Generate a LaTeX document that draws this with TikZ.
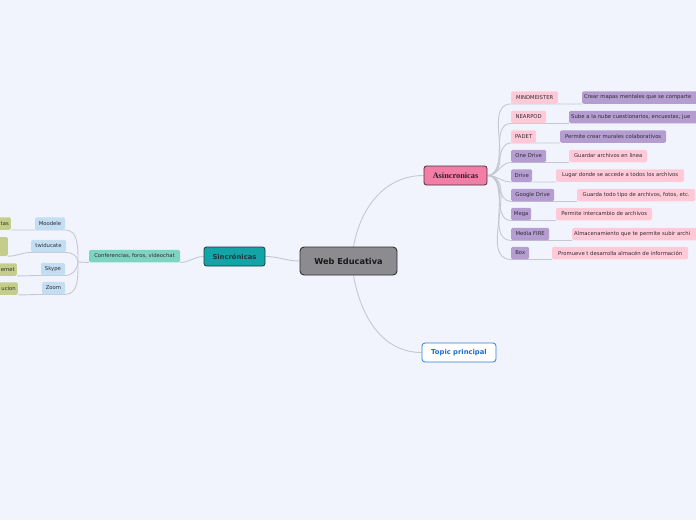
\documentclass[tikz,border=0pt]{standalone}
\usepackage{fontspec}
\setmainfont{DejaVu Sans}
\newfontfamily\serifbf{Liberation Serif}
\definecolor{bgc}{HTML}{F2F4FD}
\definecolor{linec}{HTML}{C5C8D0}
\definecolor{webc}{HTML}{8C8C90}
\definecolor{webd}{HTML}{2E2E30}
\definecolor{sinc}{HTML}{12A4A6}
\definecolor{sind}{HTML}{1C3A3B}
\definecolor{asinc}{HTML}{F47DA8}
\definecolor{asind}{HTML}{4A2B36}
\definecolor{topd}{HTML}{2B7DE1}
\definecolor{topt}{HTML}{1E6ED2}
\definecolor{confc}{HTML}{7ED4C3}
\definecolor{bluec}{HTML}{C3DEF2}
\definecolor{greenc}{HTML}{C4CE8A}
\definecolor{pinkc}{HTML}{FFC9D8}
\definecolor{purpc}{HTML}{B59DD1}
\definecolor{txt}{HTML}{2D2D33}
\pgfdeclarelayer{back}
\pgfdeclarelayer{lines}
\pgfsetlayers{back,lines,main}
\tikzset{
  base/.style={rounded corners=1.5pt, font=\fontsize{5.3}{6.3}\selectfont, text=txt,
    inner xsep=2pt, inner ysep=0pt, minimum height=12.5pt},
  pinkbox/.style={base, fill=pinkc},
  purpbox/.style={base, fill=purpc},
  bluebox/.style={base, fill=bluec},
  greenbox/.style={base, fill=greenc, text width=30pt, align=right, anchor=east},
  conn/.style={draw=linec, line width=0.9pt},
  webbox/.style={fill=webc, draw=webd, line width=0.9pt, rounded corners=4pt,
    minimum width=97pt, minimum height=28pt, font=\fontsize{8.2}{10}\selectfont\bfseries, text=black!90},
  sinbox/.style={fill=sinc, draw=sind, line width=0.8pt, rounded corners=2.5pt,
    minimum width=61pt, minimum height=19pt, font=\fontsize{6.8}{8}\selectfont\bfseries, text=sind},
  asinbox/.style={fill=asinc, draw=asind, line width=0.8pt, rounded corners=2.5pt,
    minimum width=63pt, minimum height=19pt, font=\fontsize{8.3}{10}\selectfont\serifbf\bfseries, text=black!85},
  topbox/.style={fill=white, draw=topd, line width=0.8pt, rounded corners=3pt,
    minimum width=74pt, minimum height=19pt, font=\fontsize{6.8}{8}\selectfont\bfseries, text=topt},
}
\begin{document}
\begin{tikzpicture}[x=1pt,y=1pt]
\begin{pgfonlayer}{back}
\fill[bgc] (0,0) rectangle (696,-520);
\end{pgfonlayer}
\useasboundingbox (0,0) rectangle (696,-520);

% central
\node[webbox] (web) at (348.5,-261) {Web Educativa};
\node[sinbox] (sin) at (234.5,-256.5) {Sincrónicas};
\node[asinbox] (asin) at (455.5,-175.5) {Asincronicas};
\node[topbox] (top) at (459,-352.5) {Topic principal};

% left side
\node[base, fill=confc, minimum width=91pt] (conf) at (134.5,-256) {Conferencias, foros, videochat};
\node[bluebox, minimum width=30pt] (moo) at (50,-223.5) {Moodele};
\node[bluebox, minimum width=35pt] (twi) at (48.5,-246) {twiducate};
\node[bluebox, minimum width=24pt] (sky) at (53,-269) {Skype};
\node[bluebox, minimum width=23pt] (zoo) at (53.5,-288) {Zoom};
\node[greenbox] (g1) at (11,-223.5) {tas};
\node[greenbox, minimum height=19pt] (g2) at (8,-246.5) {};
\node[greenbox] (g3) at (17,-269.5) {ernet};
\node[greenbox] (g4) at (18,-288.5) {ucion};
\coordinate (cj) at (78,-262);

% right side
\node[pinkbox, anchor=west, minimum width=47pt] (l1) at (511,-97.5) {MINDMEISTER};
\node[purpbox, anchor=west, text width=130pt, align=left] (d1) at (582,-97.5) {Crear mapas mentales que se comparte};
\node[pinkbox, anchor=west, minimum width=35pt] (l2) at (511,-117) {NEARPOD};
\node[purpbox, anchor=west, text width=130pt, align=left] (d2) at (569,-117) {Sube a la nube cuestionarios, encuestas, jue};
\node[pinkbox, anchor=west, minimum width=25pt] (l3) at (511,-136.5) {PADET};
\node[purpbox, anchor=west, minimum width=106pt] (d3) at (560,-136.5) {Permite crear murales colaborativos};
\node[purpbox, anchor=west, minimum width=35pt] (l4) at (511,-156) {One Drive};
\node[pinkbox, anchor=west, minimum width=78pt] (d4) at (569,-156) {Guardar archivos en linea};
\node[purpbox, anchor=west, minimum width=21pt] (l5) at (511,-175.5) {Drive};
\node[pinkbox, anchor=west, minimum width=128pt] (d5) at (556,-175.5) {Lugar donde se accede a todos los archivos};
\node[purpbox, anchor=west, minimum width=43pt] (l6) at (511,-195) {Google Drive};
\node[pinkbox, anchor=west, minimum width=118pt] (d6) at (577,-195) {Guarda todo tipo de archivos, fotos, etc.};
\node[purpbox, anchor=west, minimum width=20pt] (l7) at (511,-214) {Mega};
\node[pinkbox, anchor=west, minimum width=96pt] (d7) at (556,-214) {Permite intercambio de archivos};
\node[purpbox, anchor=west, minimum width=38pt] (l8) at (511,-234) {Media FIRE};
\node[pinkbox, anchor=west, text width=130pt, align=left] (d8) at (572,-234) {Almacenamiento que te permite subir archi};
\node[purpbox, anchor=west, minimum width=18pt] (l9) at (511,-253) {Box};
\node[pinkbox, anchor=west, minimum width=136pt] (d9) at (552,-253) {Promueve t desarrolla almacén de información};

\begin{pgfonlayer}{lines}
\draw[conn] ([xshift=5pt]web.north) to[out=80,in=180] (asin.west);
\draw[conn] ([xshift=5pt]web.south) to[out=-80,in=180] (top.west);
\draw[conn] (web.west) to[out=180,in=0] (sin.east);
\draw[conn] (sin.west) to[out=180,in=0] (conf.south east);
\draw[conn] (conf.south west) -- (cj);
\draw[conn] (cj) to[out=90,in=0] (moo.south east) -- (moo.south west) to[out=180,in=0] (g1.south east);
\draw[conn] (cj) to[out=90,in=0] (twi.south east) -- (twi.south west) to[out=180,in=0] (g2.south east);
\draw[conn] (cj) to[out=-90,in=0] (sky.south east) -- (sky.south west) to[out=180,in=0] (g3.south east);
\draw[conn] (cj) to[out=-90,in=0] (zoo.south east) -- (zoo.south west) to[out=180,in=0] (g4.south east);
\foreach \i in {1,...,9}{
  \draw[conn] (asin.east) to[out=0,in=180] (l\i.south west) -- (l\i.south east)
     to[out=0,in=180] (d\i.south west);
}
\end{pgfonlayer}
\end{tikzpicture}
\end{document}
